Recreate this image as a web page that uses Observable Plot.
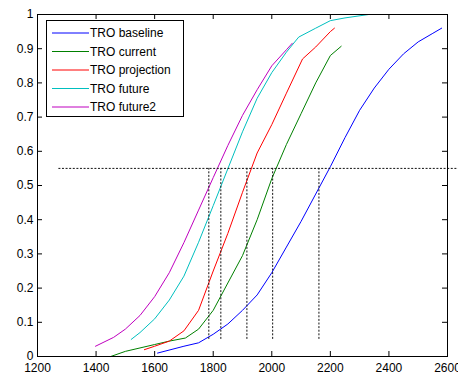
<!DOCTYPE html>
<html>
<head>
<meta charset="utf-8">
<script src="https://cdn.jsdelivr.net/npm/d3@7"></script>
<script src="https://cdn.jsdelivr.net/npm/@observablehq/plot@0.6"></script>
<style>
  html, body { margin: 0; padding: 0; background: #fff; }
  #chart { position: relative; width: 458px; height: 373px; overflow: hidden; }
</style>
</head>
<body>
<div id="chart"></div>
<script>
// ---- Data ----
const seriesNames = ["TRO baseline", "TRO current", "TRO projection", "TRO future", "TRO future2"];
const seriesColors = ["#0000ff", "#008000", "#ff0000", "#00bfbf", "#bf00bf"];

const baselineX = [1610, 1700, 1750, 1800, 1850, 1900, 1950, 2000, 2050, 2100, 2150, 2200, 2250, 2300, 2350, 2400, 2450, 2500, 2550, 2580];
const baselineY = [0.01, 0.03, 0.04, 0.065, 0.095, 0.135, 0.18, 0.245, 0.32, 0.395, 0.475, 0.555, 0.64, 0.72, 0.785, 0.84, 0.885, 0.92, 0.945, 0.96];

const currentX = [1450, 1500, 1550, 1600, 1650, 1705, 1750, 1800, 1850, 1900, 1950, 2000, 2050, 2100, 2150, 2200, 2237];
const currentY = [0.0, 0.015, 0.025, 0.035, 0.045, 0.054, 0.08, 0.135, 0.215, 0.295, 0.40, 0.52, 0.62, 0.71, 0.80, 0.88, 0.907];

const projectionX = [1565, 1600, 1650, 1700, 1750, 1800, 1850, 1900, 1950, 2000, 2050, 2105, 2150, 2200, 2214];
const projectionY = [0.02, 0.03, 0.045, 0.075, 0.135, 0.25, 0.36, 0.48, 0.595, 0.678, 0.77, 0.87, 0.905, 0.95, 0.96];

const futureX = [1520, 1550, 1600, 1650, 1700, 1750, 1800, 1850, 1900, 1950, 2000, 2050, 2092, 2150, 2200, 2250, 2331];
const futureY = [0.05, 0.07, 0.11, 0.165, 0.235, 0.334, 0.441, 0.549, 0.657, 0.755, 0.83, 0.89, 0.934, 0.96, 0.982, 0.99, 1.0];

const future2X = [1398, 1460, 1500, 1550, 1600, 1650, 1700, 1750, 1800, 1850, 1900, 1950, 2000, 2050, 2070];
const future2Y = [0.03, 0.056, 0.08, 0.12, 0.175, 0.245, 0.333, 0.428, 0.523, 0.617, 0.705, 0.78, 0.85, 0.897, 0.916];

// Reference (dashed) lines
const refLevel = 0.55;
const refXStart = 1273;
const refXEnd = 2640;
const crossX = [1785, 1826, 1915, 2003, 2161];
const crossYLow = 0.05;

// Ticks
const xTicks = [1200, 1400, 1600, 1800, 2000, 2200, 2400, 2600];
const yTicks = [0, 0.1, 0.2, 0.3, 0.4, 0.5, 0.6, 0.7, 0.8, 0.9, 1];

// ---- Build table ----
const seriesX = [baselineX, currentX, projectionX, futureX, future2X];
const seriesY = [baselineY, currentY, projectionY, futureY, future2Y];
const data = [];
seriesNames.forEach((name, s) => {
  seriesX[s].forEach((x, i) => data.push({series: name, x, y: seriesY[s][i]}));
});
const crossRules = crossX.map(x => ({x, y1: crossYLow, y2: refLevel}));

const W = 458, H = 373;
const mL = 37, mR = 11, mT = 14, mB = 17;
const frameW = W - mL - mR, frameH = H - mT - mB;
const tickLen = 5;
const dash = "2,1.6";

const chart = Plot.plot({
  width: W, height: H,
  marginLeft: mL, marginRight: mR, marginTop: mT, marginBottom: mB,
  style: {fontFamily: "'Liberation Sans', Arial, sans-serif", fontSize: "12px", color: "#000", background: "#fff"},
  x: {domain: [1200, 2600], ticks: xTicks, tickSize: 0, tickPadding: 7, tickFormat: d => String(d), label: null},
  y: {domain: [0, 1], ticks: yTicks, tickSize: 0, tickPadding: 4, tickFormat: d => String(d), label: null},
  color: {domain: seriesNames, range: seriesColors},
  marks: [
    Plot.line(data, {x: "x", y: "y", z: "series", stroke: "series", strokeWidth: 1}),
    Plot.ruleY([refLevel], {x1: refXStart, x2: refXEnd, stroke: "#111", strokeDasharray: dash, clip: false}),
    Plot.ruleX(crossRules, {x: "x", y1: "y1", y2: "y2", stroke: "#111", strokeDasharray: dash}),
    // inward ticks on all four sides (MATLAB style)
    Plot.tickX(xTicks, {x: d => d, insetTop: frameH - tickLen, stroke: "#000"}),
    Plot.tickX(xTicks, {x: d => d, insetBottom: frameH - tickLen, stroke: "#000"}),
    Plot.tickY(yTicks, {y: d => d, insetRight: frameW - tickLen, stroke: "#000"}),
    Plot.tickY(yTicks, {y: d => d, insetLeft: frameW - tickLen, stroke: "#000"}),
    Plot.frame({stroke: "#000"})
  ]
});
document.getElementById("chart").appendChild(chart);

// ---- Legend (boxed, inside the axes at upper left) ----
const svg = d3.select(chart);
const lg = svg.append("g")
  .attr("font-family", "'Liberation Sans', Arial, sans-serif")
  .attr("font-size", 12)
  .attr("text-anchor", "start");
lg.append("rect").attr("x", 46.5).attr("y", 20.5).attr("width", 137).attr("height", 96)
  .attr("fill", "#fff").attr("stroke", "#000");
seriesNames.forEach((name, i) => {
  const yy = 33 + i * 18.5;
  lg.append("line").attr("x1", 52).attr("x2", 89).attr("y1", yy).attr("y2", yy)
    .attr("stroke", seriesColors[i]).attr("stroke-width", 1);
  lg.append("text").attr("x", 90).attr("y", yy).attr("dy", "0.36em")
    .attr("text-anchor", "start").attr("fill", "#000").text(name);
});
</script>
</body>
</html>
